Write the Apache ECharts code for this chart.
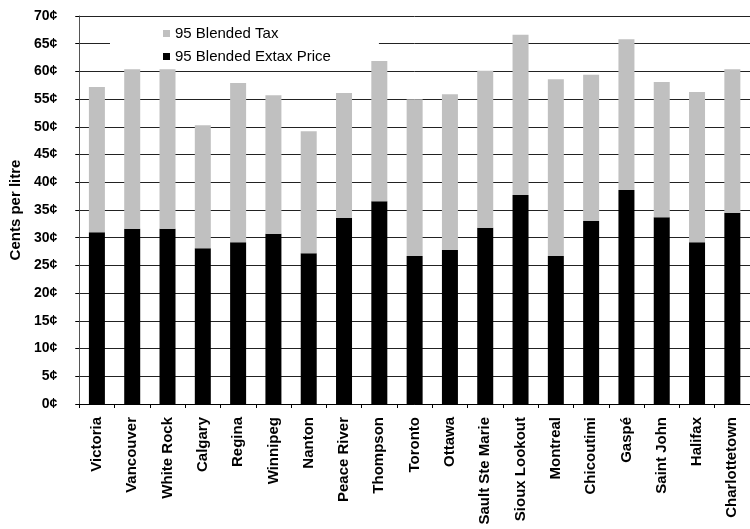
<!DOCTYPE html>
<html>
<head>
<meta charset="utf-8">
<script src="https://cdn.jsdelivr.net/npm/echarts@6/dist/echarts.min.js"></script>
<style>
html,body{margin:0;padding:0;background:#fff;}
#chart{width:750px;height:529px;}
</style>
</head>
<body>
<div id="chart"></div>
<script>
const categories = ["Victoria","Vancouver","White Rock","Calgary","Regina","Winnipeg","Nanton","Peace River","Thompson","Toronto","Ottawa","Sault Ste Marie","Sioux Lookout","Montreal","Chicoutimi","Gaspé","Saint John","Halifax","Charlottetown"];
const extaxPrice = [31.0,31.6,31.6,28.1,29.2,30.7,27.2,33.6,36.6,26.7,27.8,31.8,37.7,26.7,33.0,38.6,33.7,29.2,34.5];
const blendedTax = [26.2,28.8,28.8,22.2,28.7,25.0,22.0,22.5,25.3,28.3,28.1,28.3,28.9,31.9,26.4,27.2,24.4,27.1,25.9];
const yTicks = {min:0, max:70, interval:5};
const seriesNames = ["95 Blended Tax","95 Blended Extax Price"];

const FONT = '"Liberation Sans", Arial, sans-serif';
const chart = echarts.init(document.getElementById('chart'), null, {renderer:'canvas'});
chart.setOption({
  animation:false,
  backgroundColor:'#fff',
  textStyle:{fontFamily:FONT},
  grid:{left:79, top:16, width:677, height:388, containLabel:false},
  legend:{
    data:seriesNames,
    orient:'vertical',
    left:110, top:20, z:1,
    padding:[5,48,4,53],
    backgroundColor:'#fff',
    itemWidth:7, itemHeight:7, itemGap:6,
    icon:'rect',
    textStyle:{fontFamily:FONT, fontSize:15, color:'#000', lineHeight:17}
  },
  xAxis:{
    type:'category',
    data:categories,
    boundaryGap:true,
    axisLine:{lineStyle:{color:'#000', width:1}},
    axisTick:{show:true, length:4, lineStyle:{color:'#000'}},
    axisLabel:{interval:0, rotate:90, margin:13, fontSize:15, fontWeight:'bold', color:'#000', fontFamily:FONT}
  },
  yAxis:{
    type:'value',
    min:yTicks.min, max:yTicks.max, interval:yTicks.interval,
    name:'Cents per litre',
    nameLocation:'middle',
    nameGap:54,
    nameTextStyle:{fontSize:15, fontWeight:'bold', color:'#000', fontFamily:FONT},
    axisLine:{show:true, lineStyle:{color:'#555', width:1}},
    axisTick:{show:true, length:4, lineStyle:{color:'#000'}},
    axisLabel:{formatter:'{value}¢', margin:22, fontSize:14, fontWeight:'bold', color:'#000', fontFamily:FONT},
    splitLine:{show:true, lineStyle:{color:'#222', width:1}}
  },
  series:[
    {name:seriesNames[1], type:'bar', stack:'total', z:3, data:extaxPrice, barWidth:16, itemStyle:{color:'#000'}},
    {name:seriesNames[0], type:'bar', stack:'total', z:3, data:blendedTax, barWidth:16, itemStyle:{color:'#c0c0c0'}}
  ]
});
</script>
</body>
</html>
